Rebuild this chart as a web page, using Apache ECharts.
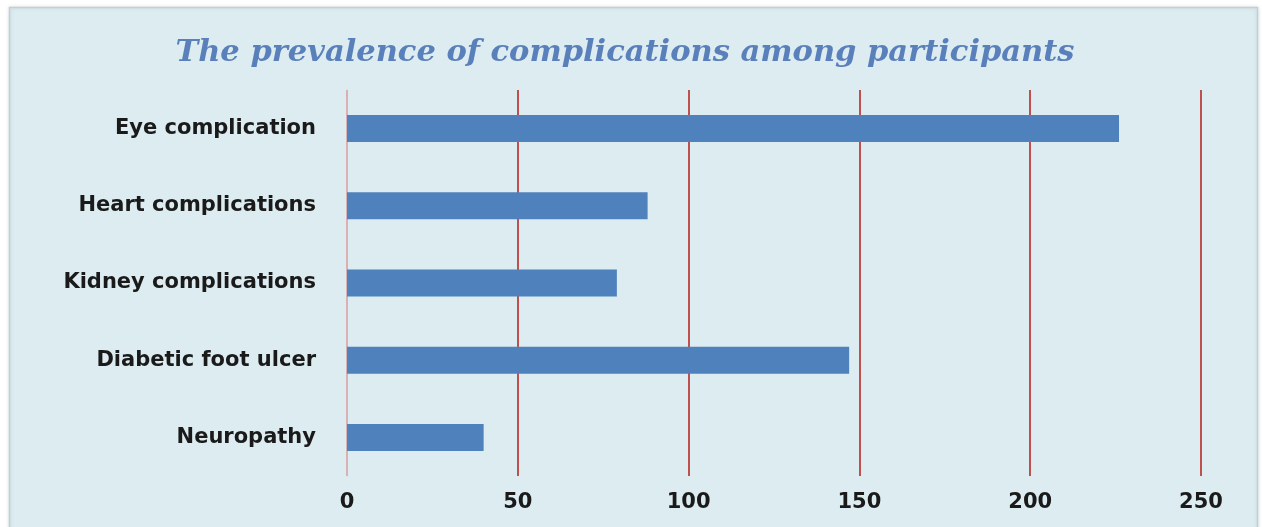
<!DOCTYPE html>
<html>
<head>
<meta charset="utf-8">
<script src="https://cdn.jsdelivr.net/npm/echarts@6/dist/echarts.min.js"></script>
<style>
  html, body { margin: 0; padding: 0; background: #ffffff; }
  #chart { width: 1262px; height: 527px; }
</style>
</head>
<body>
<div id="chart"></div>
<script>
// Complication categories, top to bottom
const categories = [
  'Eye complication',
  'Heart complications',
  'Kidney complications',
  'Diabetic foot ulcer',
  'Neuropathy'
];
// Number of participants with each complication
const counts = [226, 88, 79, 147, 40];
// Horizontal axis ticks
const xMin = 0;
const xMax = 250;
const xStep = 50;

const chart = echarts.init(document.getElementById('chart'), null, { renderer: 'canvas' });

chart.setOption({
  backgroundColor: '#ffffff',
  animation: false,
  graphic: [{
    type: 'rect',
    z: -10,
    shape: { x: 9.5, y: 7.5, width: 1248, height: 525 },
    style: {
      fill: '#dcecf1',
      stroke: '#c3cfd4',
      lineWidth: 1.5,
      shadowColor: 'rgba(0,0,0,0.12)',
      shadowBlur: 4
    }
  }],
  title: {
    text: 'The prevalence of complications among participants',
    left: 620,
    textAlign: 'center',
    top: 33,
    textStyle: {
      fontFamily: 'DejaVu Serif',
      fontStyle: 'italic',
      fontWeight: 'bold',
      fontSize: 30.5,
      color: '#5a80bb'
    }
  },
  grid: {
    left: 347,
    right: 61,
    top: 90,
    height: 386,
    containLabel: false
  },
  xAxis: {
    type: 'value',
    min: xMin,
    max: xMax,
    interval: xStep,
    axisLine: { show: false },
    axisTick: { show: false },
    axisLabel: {
      margin: 16,
      fontFamily: 'DejaVu Sans',
      fontWeight: 'bold',
      fontSize: 21,
      color: '#1a1a1a'
    },
    splitLine: {
      show: true,
      lineStyle: { color: '#c0504d', width: 2 }
    }
  },
  yAxis: {
    type: 'category',
    data: categories,
    inverse: true,
    axisLine: { show: true, lineStyle: { color: '#e3d2d4', width: 1.5 } },
    axisTick: { show: false },
    axisLabel: {
      margin: 31,
      fontFamily: 'DejaVu Sans',
      fontWeight: 'bold',
      fontSize: 21,
      color: '#1a1a1a'
    }
  },
  series: [{
    type: 'bar',
    data: counts,
    barWidth: 27,
    itemStyle: { color: '#4f81bd' }
  }]
});
</script>
</body>
</html>
